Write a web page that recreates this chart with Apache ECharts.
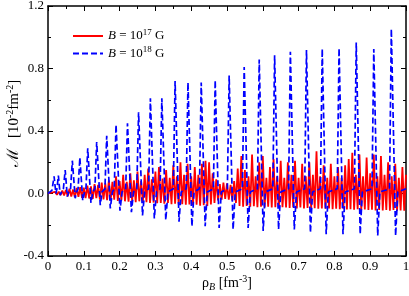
<!DOCTYPE html>
<html>
<head>
<meta charset="utf-8">
<script src="https://cdn.jsdelivr.net/npm/echarts@6/dist/echarts.min.js"></script>
<style>html,body{margin:0;padding:0;background:#fff}#c{width:409px;height:296px}</style>
</head>
<body>
<div id="c"></div>
<script>
// Tick settings
var xTicks = [0, 0.1, 0.2, 0.3, 0.4, 0.5, 0.6, 0.7, 0.8, 0.9, 1];
var yTicks = [-0.4, 0.0, 0.4, 0.8, 1.2];

// Series names
var seriesNames = ['B17', 'B18'];

// B = 10^17 G (red, solid): dense oscillation, [rho_B, M]
var red17 = [
[0.000,0.000],[0.005,-0.004],[0.010,0.006],[0.015,-0.006],[0.020,0.010],[0.025,-0.008],[0.030,0.012],[0.035,-0.010],[0.040,0.018],[0.045,-0.012],
[0.050,0.022],[0.055,-0.018],[0.060,0.030],[0.065,-0.020],[0.070,0.025],[0.075,-0.025],[0.080,0.035],[0.085,-0.022],[0.090,0.040],[0.095,-0.028],
[0.100,0.038],[0.105,-0.030],[0.110,0.050],[0.115,-0.032],[0.120,0.045],[0.125,-0.035],[0.130,0.060],[0.135,-0.030],[0.140,0.055],[0.145,-0.040],
[0.150,0.070],[0.155,-0.038],[0.160,0.065],[0.165,-0.042],[0.170,0.085],[0.175,-0.045],[0.180,0.075],[0.185,-0.040],[0.190,0.110],[0.195,-0.048],
[0.200,0.080],[0.205,-0.045],[0.210,0.120],[0.215,-0.050],[0.220,0.075],[0.225,-0.052],[0.230,0.130],[0.235,-0.048],[0.240,0.085],[0.245,-0.055],
[0.250,0.140],[0.255,-0.050],[0.260,0.080],[0.265,-0.058],[0.270,0.120],[0.275,-0.055],[0.280,0.160],[0.285,-0.060],[0.290,0.090],[0.295,-0.058],
[0.300,0.140],[0.305,-0.062],[0.310,0.170],[0.315,-0.060],[0.320,0.095],[0.325,-0.065],[0.330,0.150],[0.335,-0.060],[0.340,0.100],[0.345,-0.068],
[0.350,0.180],[0.355,-0.065],[0.360,0.110],[0.365,-0.070],[0.370,0.200],[0.375,-0.068],[0.380,0.120],[0.385,-0.072],[0.390,0.190],[0.395,-0.070],
[0.400,0.110],[0.405,-0.075],[0.410,0.170],[0.415,-0.072],[0.420,0.120],[0.425,-0.078],[0.430,0.190],[0.435,-0.075],[0.440,0.210],[0.445,-0.080],
[0.450,0.200],[0.455,-0.070],[0.460,0.130],[0.465,-0.060],[0.470,0.090],[0.475,-0.045],[0.480,0.060],[0.485,-0.040],[0.490,0.070],[0.495,-0.035],
[0.500,0.065],[0.505,-0.040],[0.510,0.055],[0.515,-0.045],[0.520,0.080],[0.525,-0.060],[0.530,0.160],[0.535,-0.080],[0.540,0.240],[0.545,-0.085],
[0.550,0.150],[0.555,-0.080],[0.560,0.110],[0.565,-0.085],[0.570,0.250],[0.575,-0.082],[0.580,0.110],[0.585,-0.088],[0.590,0.200],[0.595,-0.085],
[0.600,0.240],[0.605,-0.090],[0.610,0.100],[0.615,-0.085],[0.620,0.170],[0.625,-0.090],[0.630,0.220],[0.635,-0.088],[0.640,0.110],[0.645,-0.092],
[0.650,0.210],[0.655,-0.088],[0.660,0.100],[0.665,-0.090],[0.670,0.200],[0.675,-0.093],[0.680,0.120],[0.685,-0.090],[0.690,0.210],[0.695,-0.095],
[0.700,0.100],[0.705,-0.090],[0.710,0.190],[0.715,-0.095],[0.720,0.110],[0.725,-0.092],[0.730,0.200],[0.735,-0.096],[0.740,0.120],[0.745,-0.094],
[0.750,0.270],[0.755,-0.098],[0.760,0.110],[0.765,-0.095],[0.770,0.180],[0.775,-0.098],[0.780,0.100],[0.785,-0.096],[0.790,0.190],[0.795,-0.100],
[0.800,0.110],[0.805,-0.098],[0.810,0.170],[0.815,-0.100],[0.820,0.100],[0.825,-0.098],[0.830,0.180],[0.835,-0.102],[0.840,0.220],[0.845,-0.100],
[0.850,0.260],[0.855,-0.104],[0.860,0.120],[0.865,-0.100],[0.870,0.250],[0.875,-0.105],[0.880,0.110],[0.885,-0.102],[0.890,0.230],[0.895,-0.106],
[0.900,0.130],[0.905,-0.104],[0.910,0.250],[0.915,-0.108],[0.920,0.110],[0.925,-0.105],[0.930,0.240],[0.935,-0.108],[0.940,0.120],[0.945,-0.106],
[0.950,0.200],[0.955,-0.110],[0.960,0.110],[0.965,-0.106],[0.970,0.190],[0.975,-0.110],[0.980,0.100],[0.985,-0.108],[0.990,0.170],[0.995,-0.110],
[1.000,0.120]
];

// B = 10^18 G (blue, dashed): spikes, troughs and baseline points, [rho_B, M]
var blue18 = [
[0.000,0.000],[0.011,0.020],[0.017,0.110],[0.022,0.000],[0.025,0.030],[0.029,0.115],[0.034,-0.010],[0.038,0.010],
[0.043,0.030],[0.048,0.150],[0.054,-0.020],[0.058,0.010],
[0.063,0.030],[0.068,0.210],[0.076,-0.030],[0.080,0.010],
[0.084,0.030],[0.089,0.230],[0.097,-0.045],[0.102,0.010],
[0.106,0.030],[0.111,0.290],[0.120,-0.060],[0.125,0.010],
[0.131,0.030],[0.136,0.330],[0.146,-0.075],[0.151,0.010],
[0.159,0.030],[0.164,0.370],[0.174,-0.095],[0.180,0.010],
[0.185,0.030],[0.190,0.440],[0.201,-0.110],[0.207,0.010],
[0.217,0.030],[0.222,0.450],[0.233,-0.120],[0.239,0.010],
[0.248,0.030],[0.253,0.520],[0.264,-0.140],[0.270,0.010],
[0.281,0.030],[0.286,0.610],[0.297,-0.160],[0.303,0.010],
[0.313,0.030],[0.318,0.610],[0.329,-0.170],[0.335,0.010],
[0.350,0.030],[0.355,0.720],[0.366,-0.180],[0.372,0.010],
[0.386,0.030],[0.391,0.710],[0.402,-0.210],[0.408,0.010],
[0.423,0.030],[0.428,0.710],[0.439,-0.210],[0.445,0.010],
[0.462,0.030],[0.467,0.725],[0.478,-0.220],[0.484,0.010],
[0.501,0.030],[0.506,0.755],[0.517,-0.230],[0.523,0.010],
[0.543,0.030],[0.548,0.810],[0.559,-0.220],[0.565,0.010],
[0.585,0.030],[0.590,0.857],[0.601,-0.240],[0.607,0.010],
[0.628,0.030],[0.633,0.885],[0.644,-0.230],[0.650,0.010],
[0.672,0.030],[0.677,0.907],[0.688,-0.230],[0.694,0.010],
[0.717,0.030],[0.722,0.918],[0.733,-0.250],[0.739,0.010],
[0.761,0.030],[0.766,0.926],[0.777,-0.260],[0.783,0.010],
[0.808,0.030],[0.813,0.930],[0.824,-0.260],[0.830,0.010],
[0.856,0.030],[0.861,0.967],[0.872,-0.260],[0.878,0.010],
[0.905,0.030],[0.910,0.924],[0.921,-0.270],[0.927,0.010],
[0.954,0.030],[0.959,1.054],[0.971,-0.270],[0.977,0.010],
[1.000,0.030]
];

var serif = '"Liberation Serif","DejaVu Serif","Times New Roman",serif';
var chart = echarts.init(document.getElementById('c'), null, {renderer: 'canvas'});

function axisCommon(extra) {
  return Object.assign({
    axisLine: {show: true, onZero: false, lineStyle: {color: '#000', width: 1.5}},
    axisTick: {show: true, inside: true, length: 5, lineStyle: {color: '#000', width: 1}},
    minorTick: {show: true, splitNumber: 2, length: 3, lineStyle: {color: '#000', width: 1}},
    splitLine: {show: false},
    minorSplitLine: {show: false}
  }, extra);
}

var legendRich = {
  i: {fontFamily: serif, fontStyle: 'italic', fontSize: 13, color: '#000', lineHeight: 16},
  n: {fontFamily: serif, fontSize: 13, color: '#000', lineHeight: 16},
  s: {fontFamily: serif, fontSize: 9, color: '#000', verticalAlign: 'top', lineHeight: 10}
};
var legendLabels = {
  B17: '{i|B}{n| = 10}{s|17}{n| G}',
  B18: '{i|B}{n| = 10}{s|18}{n| G}'
};

chart.setOption({
  animation: false,
  backgroundColor: '#fff',
  grid: {left: 48, right: 3, top: 6, bottom: 40, show: false, containLabel: false, outerBoundsMode: 'none'},
  legend: {
    data: seriesNames,
    orient: 'vertical',
    left: 67, top: 23,
    itemWidth: 30, itemHeight: 10, itemGap: 3,
    itemStyle: {opacity: 0},
    formatter: function (n) { return legendLabels[n]; },
    textStyle: {rich: legendRich}
  },
  xAxis: [
    axisCommon({
      type: 'value', min: xTicks[0], max: xTicks[xTicks.length - 1], interval: 0.1, position: 'bottom',
      axisLabel: {show: true, margin: 4, color: '#000', fontFamily: serif, fontSize: 13},
      name: '{r|ρ}{sb|B}{n| [fm}{s|-3}{n|]}',
      nameLocation: 'middle', nameGap: 18, nameMoveOverlap: false,
      nameTextStyle: {rich: {
        r: {fontFamily: serif, fontSize: 14, color: '#000', lineHeight: 18},
        sb: {fontFamily: serif, fontStyle: 'italic', fontSize: 10, color: '#000', verticalAlign: 'bottom', lineHeight: 10},
        n: {fontFamily: serif, fontSize: 14, color: '#000', lineHeight: 18},
        s: {fontFamily: serif, fontSize: 10, color: '#000', verticalAlign: 'top', lineHeight: 10}
      }}
    }),
    axisCommon({
      type: 'value', min: xTicks[0], max: xTicks[xTicks.length - 1], interval: 0.1, position: 'top',
      axisLabel: {show: false}
    })
  ],
  yAxis: [
    axisCommon({
      type: 'value', min: yTicks[0], max: yTicks[yTicks.length - 1], interval: 0.4, position: 'left',
      axisLabel: {show: true, margin: 4, color: '#000', fontFamily: serif, fontSize: 13,
        formatter: function (v) { return v.toFixed(1); }},
      name: '{n|    }{m|ℳ}{n|   [10}{s|-2}{n|fm}{s|-2}{n|]}',
      nameLocation: 'middle', nameGap: 25, nameRotate: 90, nameMoveOverlap: false,
      nameTextStyle: {rich: {
        m: {fontFamily: serif, fontSize: 16, color: '#000', lineHeight: 18},
        n: {fontFamily: serif, fontSize: 15, color: '#000', lineHeight: 18},
        s: {fontFamily: serif, fontSize: 10, color: '#000', verticalAlign: 'top', lineHeight: 10}
      }}
    }),
    axisCommon({
      type: 'value', min: yTicks[0], max: yTicks[yTicks.length - 1], interval: 0.4, position: 'right',
      axisLabel: {show: false}
    })
  ],
  series: [
    {
      name: seriesNames[0], type: 'line', xAxisIndex: 0, yAxisIndex: 0,
      data: red17, symbol: 'none', z: 2,
      lineStyle: {color: '#ff0000', width: 1.8, type: 'solid'},
      itemStyle: {color: '#ff0000'}
    },
    {
      name: seriesNames[1], type: 'line', xAxisIndex: 0, yAxisIndex: 0,
      data: blue18, symbol: 'none', z: 3,
      lineStyle: {color: '#0000ff', width: 1.7, type: [6, 3]},
      itemStyle: {color: '#0000ff'}
    }
  ]
});
</script>
</body>
</html>
